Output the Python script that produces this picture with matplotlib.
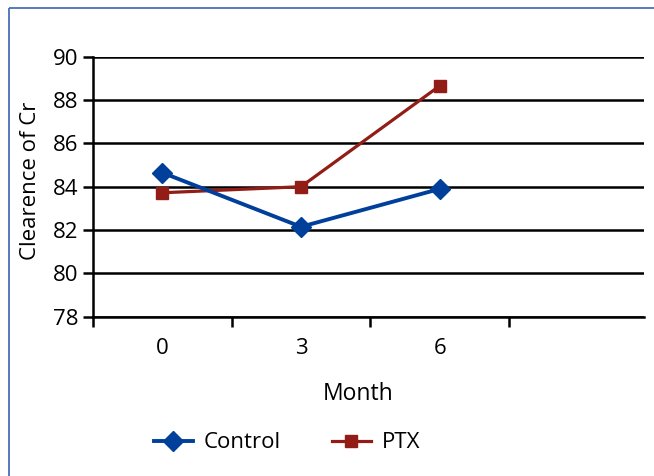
import matplotlib
matplotlib.use('Agg')
import matplotlib.pyplot as plt
from matplotlib.lines import Line2D

plt.rcParams['font.family'] = ['Open Sans', 'DejaVu Sans']

# Data
months = ['0', '3', '6']
control = [84.65, 82.15, 83.9]
ptx = [83.72, 84.0, 88.66]
y_ticks = [78, 80, 82, 84, 86, 88, 90]

blue = '#00409a'
red = '#921c16'

W, H = 654, 476
fig = plt.figure(figsize=(W / 100, H / 100), dpi=100)

# axes placed in pixel terms of the reference
left, right, top, bottom = 92.7, 644, 56.7, 316.7
ax = fig.add_axes([left / W, 1 - bottom / H, (right - left) / W, (bottom - top) / H])

x = range(len(months))
ax.plot(x, control, color=blue, lw=2.8, marker='D', ms=10, label='Control', zorder=4)
ax.plot(x, ptx, color=red, lw=2.3, marker='s', ms=8.6, label='PTX', zorder=3)

ax.set_ylim(78, 90)
ax.set_xlim(-0.5, 3.47)
ax.set_yticks(y_ticks)
ax.set_xticks(list(x))
ax.set_xticklabels(months)
ax.set_xticks([-0.5, 0.5, 1.5, 2.5], minor=True)

ax.grid(axis='y', color='black', lw=1.8)
ax.set_axisbelow(True)
for s in ['top', 'right']:
    ax.spines[s].set_visible(False)
for s in ['left', 'bottom']:
    ax.spines[s].set_linewidth(1.8)
    ax.spines[s].set_color('black')

ax.tick_params(axis='y', direction='out', length=7.2, width=1.8, labelsize=16, pad=3)
ax.tick_params(axis='x', which='major', length=0, labelsize=16, pad=15.5)
ax.tick_params(axis='x', which='minor', direction='out', length=7.2, width=1.8)

ax.set_ylabel('Clearence of Cr', fontsize=16)
ax.yaxis.label.set_va('center')
ax.yaxis.set_label_coords((31 - left) / (right - left), (bottom - 181) / (bottom - top))
ax.set_xlabel('Month', fontsize=16.5)
ax.xaxis.label.set_va('center')
ax.xaxis.set_label_coords((358 - left) / (right - left), (bottom - 394) / (bottom - top))

fig.legend(loc='center', bbox_to_anchor=(287 / W, 1 - 443 / H), ncol=2, frameon=False,
           fontsize=16, handlelength=1.75, handletextpad=0.5, columnspacing=2.3)

# blue frame, only left and top edges are visible in the reference
frame = dict(color='#3a64b4', lw=1.2, transform=fig.transFigure, solid_capstyle='butt')
fig.add_artist(Line2D([8.5 / W, 8.5 / W], [-0.01, 1 - 7.5 / H], **frame))
fig.add_artist(Line2D([8.5 / W, 1.01], [1 - 7.5 / H, 1 - 7.5 / H], **frame))

fig.savefig('out.png', dpi=100)
